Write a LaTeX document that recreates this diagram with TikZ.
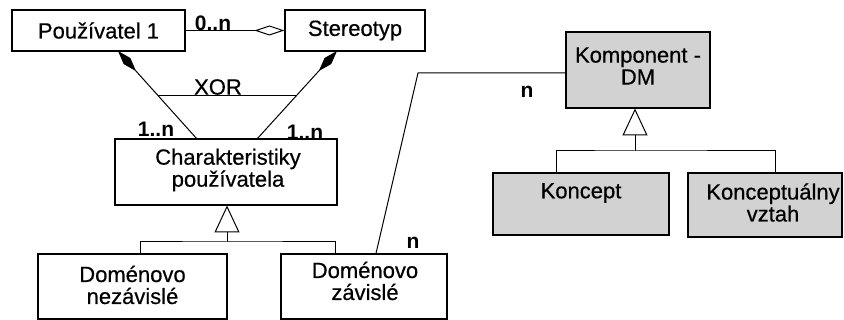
\documentclass[tikz,border=0pt]{standalone}
\usepackage{fontspec}
\setmainfont[FakeBold=0.5]{Liberation Sans}
\newfontfamily\boldfam{Liberation Sans Bold}
\usetikzlibrary{arrows.meta,calc}
\definecolor{boxgray}{RGB}{210,210,210}
\begin{document}
\begin{tikzpicture}[x=1pt,y=-1pt,
  box/.style={draw,line width=1.2pt,rectangle,inner sep=0pt,align=center,font=\fontsize{22}{22}\selectfont},
  gbox/.style={box,fill=boxgray},
  txt/.style={inner sep=0pt,align=center,font=\fontsize{22}{22}\selectfont},
  mult/.style={inner sep=0pt,font=\boldfam\fontsize{21}{22}\selectfont},
  conn/.style={line width=1pt},
  comp/.style={conn,{Diamond[length=27pt,width=9pt]}-},
  aggr/.style={conn,-{Diamond[open,length=30pt,width=10pt,fill=white]}},
  gen/.style={conn,-{Triangle[open,length=27pt,width=25pt,fill=white]}}]
\useasboundingbox (0,0) rectangle (844,320);

% boxes
\node[box,minimum width=173pt,minimum height=41pt] (p1) at (98.5,30.5) {Používatel 1};
\node[box,minimum width=140pt,minimum height=41pt] (st) at (355,30.5) {Stereotyp};
\node[box,minimum width=222pt,minimum height=66pt] (ch) at (226,172) {};
\node[txt] (cht) at (228,170) {Charakteristiky\\používatela};
\node[box,minimum width=189pt,minimum height=65pt] (dn) at (132.5,286.5) {};
\node[txt] (dnt) at (132.5,285) {Doménovo\\nezávislé};
\node[box,minimum width=166pt,minimum height=65pt] (dz) at (364,286.5) {};
\node[txt] (dzt) at (365,281) {Doménovo\\závislé};
\node[gbox,minimum width=144pt,minimum height=76pt] (km) at (638,70) {};
\node[txt] (kmt) at (638,66) {Komponent -\\DM};
\node[gbox,minimum width=176pt,minimum height=62pt] (ko) at (581,204) {};
\node[txt] (kot) at (581,193) {Koncept};
\node[gbox,minimum width=154pt,minimum height=64pt] (kv) at (765,205) {};
\node[txt] (kvt) at (773,202.5) {Konceptuálny\\vztah};

% aggregation
\draw[aggr] (p1.east) -- (st.west);
\node[mult] (m0n) at (213,23) {0..n};

% compositions
\coordinate (c1s) at (118,51);
\coordinate (c1e) at (197,139);
\coordinate (c2s) at (337,51);
\coordinate (c2e) at (257,139);
\draw[comp] (c1s) -- (c1e);
\draw[comp] (c2s) -- (c2e);
\coordinate (x1) at ($(c1s)!0.511!(c1e)$);
\coordinate (x2) at ($(c2s)!0.511!(c2e)$);
\draw[conn] (x1) -- (x2);
\node[txt] (xor) at (218,87) {XOR};
\node[mult] (m1) at (156,129) {1..n};
\node[mult] (m2) at (305,132) {1..n};

% generalization left
\coordinate (g1) at (227,242);
\draw[gen] (g1) -- (227,205.5);
\draw[conn] (dn.north -| 140,0) |- (g1) -| (dz.north -| 335,0);

% generalization right
\coordinate (g2) at (635,151);
\draw[gen] (g2) -- (635,108.5);
\draw[conn] (ko.north -| 556,0) |- (g2) -| (kv.north -| 775,0);

% association
\coordinate (bend) at (418,73);
\draw[conn] (dz.north -| 376,0) -- (bend) -- (km.west |- bend);
\node[mult] (n1) at (413,243) {n};
\node[mult] (n2) at (527,92) {n};
\end{tikzpicture}
\end{document}
